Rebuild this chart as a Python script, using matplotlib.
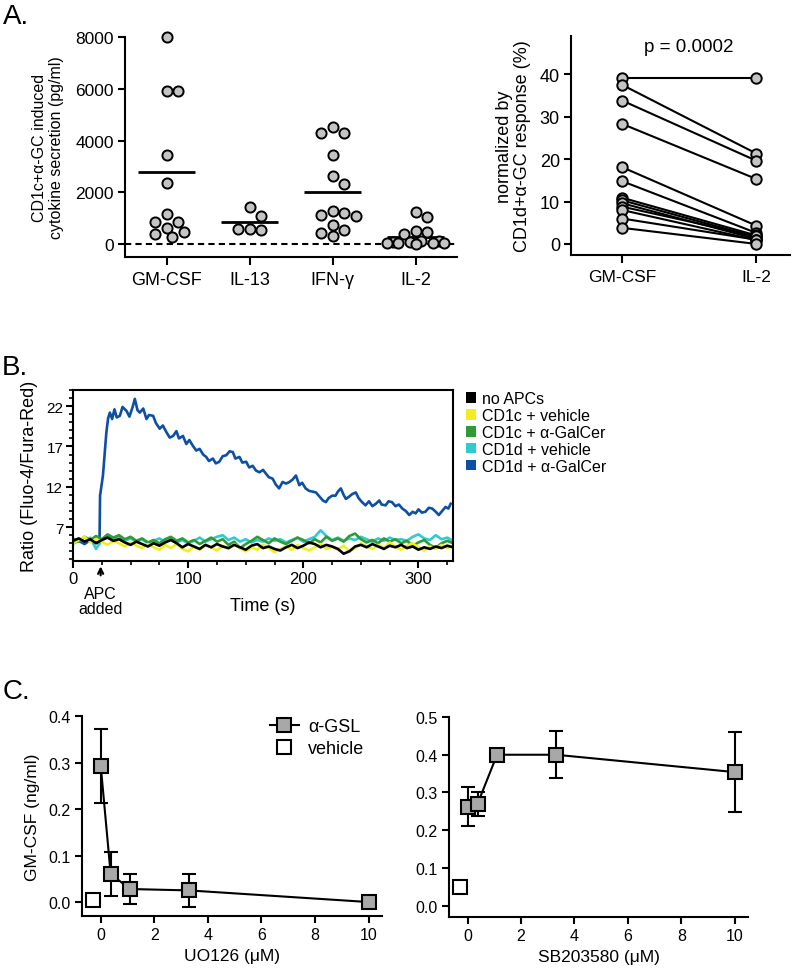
import numpy as np
import matplotlib
matplotlib.use('Agg')
import matplotlib.pyplot as plt
from matplotlib.patches import Patch
from matplotlib.lines import Line2D
from matplotlib.ticker import MultipleLocator, FormatStrFormatter

plt.rcParams['font.family'] = ['Liberation Sans', 'DejaVu Sans']
plt.rcParams['axes.linewidth'] = 1.5
plt.rcParams['xtick.major.width'] = 1.5
plt.rcParams['ytick.major.width'] = 1.5
plt.rcParams['xtick.minor.width'] = 1.2
plt.rcParams['ytick.minor.width'] = 1.2

# ---- A: cytokine secretion (pg/ml) ----
cytokines = ['GM-CSF', 'IL-13', 'IFN-γ', 'IL-2']
gmcsf_pg = [8000, 5900, 5900, 3450, 2350, 1160, 860, 860, 620, 475, 390, 270]
il13_pg = [1420, 1100, 580, 555, 580]
ifng_pg = [4520, 4280, 4280, 3460, 2620, 2320, 1290, 1190, 1120, 1070, 735, 555, 425, 300]
il2_pg = [1220, 1050, 500, 450, 400, 130, 110, 90, 70, 60, 50, 40, 30, 20]
mean_pg = [2800, 870, 2020, 270]

# ---- A: paired normalized response (%) ----
pair_labels = ['GM-CSF', 'IL-2']
gm_pct = [39.2, 37.5, 33.8, 28.3, 18.1, 14.8, 10.9, 10.3, 9.6, 8.8, 8.0, 6.0, 3.8]
il2_pct = [39.2, 21.3, 19.6, 15.3, 4.3, 2.6, 2.0, 1.6, 1.2, 1.8, 0.9, 1.0, 0.0]
p_text = 'p = 0.0002'

# ---- B: calcium flux traces (5 s sampling for controls) ----
no_apc = [5.3, 5.6, 5.2, 5.5, 5.0, 5.4, 5.7, 5.3, 5.5, 5.1, 4.8, 5.2, 4.9, 4.6, 5.0, 4.7, 5.1,
          5.4, 5.0, 4.5, 4.9, 4.6, 4.3, 4.8, 4.5, 4.9, 4.6, 4.4, 4.8, 4.5, 4.2, 4.7, 4.9, 4.4,
          4.6, 4.3, 4.1, 4.5, 4.8, 4.4, 4.7, 5.1, 4.9, 4.5, 4.8, 4.6, 4.3, 3.7, 4.0, 4.6, 4.8,
          4.5, 4.9, 4.6, 4.3, 4.7, 4.5, 4.8, 4.4, 4.6, 4.2, 4.5, 4.3, 4.6, 4.4, 4.7, 4.5]
cd1c_veh = [5.0, 5.4, 5.8, 5.1, 5.5, 5.2, 4.8, 5.3, 5.0, 4.6, 5.1, 4.7, 4.4, 4.9, 4.5, 4.2, 4.8,
            4.4, 4.9, 4.3, 4.0, 4.6, 4.2, 4.8, 4.5, 4.1, 4.7, 4.3, 4.9, 4.4, 4.0, 4.5, 4.2, 4.8,
            4.4, 3.9, 4.3, 4.6, 4.2, 4.8, 4.4, 4.1, 4.5, 4.9, 4.3, 4.6, 4.2, 4.7, 4.0, 4.4, 5.0,
            4.6, 4.3, 4.8, 4.4, 5.1, 4.6, 4.2, 4.7, 5.0, 4.5, 4.1, 4.6, 4.3, 4.8, 4.4, 4.7]
cd1c_agc = [5.6, 5.2, 5.8, 5.4, 5.9, 5.5, 6.1, 5.7, 6.0, 5.5, 5.8, 5.3, 5.6, 5.1, 5.4, 5.0, 5.5,
            5.8, 5.3, 5.6, 5.1, 5.4, 4.9, 5.3, 5.7, 5.2, 5.5, 4.8, 5.2, 4.4, 4.9, 5.3, 5.8, 5.4,
            5.0, 5.6, 5.2, 4.9, 5.3, 5.7, 5.4, 5.0, 5.5, 5.1, 5.8, 5.3, 5.6, 5.2, 5.9, 6.2, 5.5,
            5.1, 5.4, 5.0, 5.6, 5.2, 5.5, 5.0, 5.3, 4.7, 5.1, 5.4, 4.8, 4.4, 5.0, 5.3, 5.0]
cd1d_veh = [4.9, 5.5, 5.2, 5.7, 4.3, 5.4, 5.9, 5.5, 5.8, 5.3, 5.6, 5.2, 5.5, 5.0, 5.3, 5.6, 5.2,
            5.5, 5.1, 5.4, 5.0, 5.3, 5.7, 5.2, 5.5, 5.8, 6.0, 5.4, 5.7, 5.2, 5.5, 5.1, 5.4, 5.2,
            5.6, 5.3, 5.5, 5.1, 5.4, 5.7, 5.2, 5.5, 5.8, 6.6, 5.9, 5.4, 5.7, 5.3, 5.6, 5.4, 5.8,
            5.5, 5.2, 5.6, 5.3, 5.7, 5.4, 5.5, 5.3, 5.8, 6.1, 5.6, 5.4, 6.0, 5.5, 5.7, 5.3]
cd1d_agc_t = [0, 5, 10, 15, 20, 23, 23.5, 26, 29, 30.5, 32, 34, 36, 38, 40.7, 43, 46.5, 49, 52,
              53.7, 56, 58, 61, 63.8, 66, 69.6, 72, 75.3, 78, 81, 84, 86.9, 89.8, 92, 95.5, 98.4,
              101, 104, 107, 110, 113, 115.7, 118, 121.5, 124, 127, 130, 133, 136, 138.8, 141,
              144.6, 147, 150.4, 153, 156, 159, 162, 165, 167.7, 170, 173.4, 176, 179, 182, 185,
              188, 190.7, 193.6, 196.5, 199, 202, 205, 208, 211, 214, 217, 219.6, 222, 225, 228,
              230, 232.6, 235, 237, 240, 242.5, 245.6, 248, 251, 254, 257, 260, 263, 266, 268,
              271.5, 274, 277, 280, 283, 286, 289, 292, 295, 297.6, 300, 303, 306, 309, 312, 315,
              317.7, 320, 323.5, 326, 328]
cd1d_agc = [5.0, 5.3, 4.9, 5.4, 5.1, 5.0, 10.9, 13.4, 18.8, 20.5, 21.2, 20.4, 21.6, 20.6, 20.8,
            21.9, 21.4, 20.7, 22.0, 22.9, 21.5, 21.2, 21.7, 20.4, 20.9, 20.8, 19.9, 19.2, 19.6,
            18.8, 18.1, 18.3, 18.9, 18.0, 18.3, 17.3, 17.8, 17.1, 16.5, 16.7, 16.0, 15.7, 15.2,
            15.5, 14.9, 15.1, 15.8, 15.9, 16.4, 16.3, 15.5, 15.7, 15.0, 15.1, 14.4, 14.6, 14.0,
            13.8, 14.1, 13.6, 13.2, 13.0, 12.3, 11.8, 12.6, 12.4, 12.6, 12.9, 13.4, 12.2, 12.5,
            11.8, 11.5, 11.4, 11.3, 10.8, 10.3, 10.1, 10.6, 10.9, 10.9, 11.4, 11.8, 11.0, 10.5,
            10.8, 11.1, 11.3, 10.6, 10.1, 9.7, 10.2, 9.6, 9.9, 10.3, 9.8, 9.7, 10.2, 10.1, 9.6,
            9.8, 9.3, 9.0, 8.5, 8.9, 8.7, 9.2, 8.8, 8.9, 9.4, 9.3, 8.9, 8.5, 8.9, 9.5, 9.3, 9.9]
apc_added_t = 24

# ---- C: MEK / p38 inhibitor titrations ----
conc = [0, 0.37, 1.1, 3.3, 10]
uo126_mean = [0.293, 0.060, 0.028, 0.025, 0.0]
uo126_sem = [0.079, 0.048, 0.033, 0.036, 0.0]
uo126_vehicle = 0.004
sb_mean = [0.262, 0.270, 0.400, 0.400, 0.354]
sb_sem = [0.052, 0.032, 0.0, 0.062, 0.107]
sb_vehicle = 0.050
vehicle_x = -0.3

GREY_C = '#c4c4c4'
GREY_S = '#a8a8a8'

fig = plt.figure(figsize=(8, 9.7), dpi=100)


def px_axes(l, t, r, b):
    return fig.add_axes([l / 800, 1 - b / 970, (r - l) / 800, (b - t) / 970])


def swarm_x(ax, xc, vals, diam):
    # simple beeswarm in pixel space, returns data x for each value
    placed = []
    xs = []
    inv = ax.transData.inverted()
    for v in vals:
        x0, y0 = ax.transData.transform((xc, v))
        best_x, best_d = x0, -1
        for k in [0, 1, -1, 2, -2, 3, -3, 4, -4, 5, -5]:
            cx = x0 + k * diam * 0.5
            dmin = min([np.hypot(cx - px, y0 - py) for px, py in placed], default=1e9)
            if dmin >= 0.9 * diam:
                best_x = cx
                break
            if dmin > best_d:
                best_x, best_d = cx, dmin
        placed.append((best_x, y0))
        xs.append(inv.transform((best_x, y0))[0])
    return xs


def style(ax, fs):
    ax.spines['top'].set_visible(False)
    ax.spines['right'].set_visible(False)
    ax.tick_params(direction='out', length=5, labelsize=fs, pad=3)


# ===== Panel A left =====
axA1 = px_axes(125, 38, 457, 258)
axA1.set_xlim(-0.5, 3.5)
axA1.set_ylim(-500, 8000)
style(axA1, 12.5)
axA1.set_yticks([0, 2000, 4000, 6000, 8000])
axA1.set_xticks(range(4))
axA1.set_xticklabels(cytokines, fontsize=13)
axA1.tick_params(axis='x', length=6, pad=4)
axA1.axhline(0, color='k', lw=1.5, ls=(0, (3, 2)), zorder=1)
for i, vals in enumerate([gmcsf_pg, il13_pg, ifng_pg, il2_pg]):
    xs = swarm_x(axA1, i, vals, 11.5)
    axA1.plot(xs, vals, 'o', ms=7.3, mfc=GREY_C, mec='k', mew=1.4, zorder=3, clip_on=False)
axA1.hlines(mean_pg, np.arange(4) - 0.34, np.arange(4) + 0.34, color='k', lw=2, zorder=2)
axA1.set_ylabel('CD1c+α-GC induced\ncytokine secretion (pg/ml)', fontsize=11.5, labelpad=8)

# ===== Panel A right =====
axA2 = px_axes(571, 37, 790, 256)
axA2.set_xlim(-0.38, 1.25)
axA2.set_ylim(-2.6, 49)
style(axA2, 13)
axA2.set_yticks([0, 10, 20, 30, 40])
axA2.set_xticks([0, 1])
axA2.set_xticklabels(pair_labels, fontsize=12.5)
axA2.tick_params(axis='x', length=6, pad=4)
for a, b in zip(gm_pct, il2_pct):
    axA2.plot([0, 1], [a, b], '-', color='k', lw=1.5, zorder=2)
axA2.plot(np.zeros(len(gm_pct)), gm_pct, 'o', ms=7.5, mfc=GREY_C, mec='k', mew=1.4, zorder=3)
axA2.plot(np.ones(len(il2_pct)), il2_pct, 'o', ms=7.5, mfc=GREY_C, mec='k', mew=1.4, zorder=3,
          clip_on=False)
axA2.text(0.5, 46.6, p_text, ha='center', va='center', fontsize=13.5)
axA2.set_ylabel('normalized by\nCD1d+α-GC response (%)', fontsize=13, labelpad=6,
                linespacing=1.1)

# ===== Panel B =====
axB = px_axes(73, 391, 453, 562)
axB.set_xlim(0, 330)
axB.set_ylim(2.8, 24)
t5 = np.arange(len(no_apc)) * 5
traces = [
    (cd1d_agc_t, cd1d_agc, '#0d4fa3', 'CD1d + α-GalCer'),
    (t5, cd1d_veh, '#2ecbd3', 'CD1d + vehicle'),
    (t5, cd1c_agc, '#2f9a36', 'CD1c + α-GalCer'),
    (t5, cd1c_veh, '#f2ee1e', 'CD1c + vehicle'),
    (t5, no_apc, '#000000', 'no APCs'),
]
for t, v, c, lab in traces:
    axB.plot(t, v, color=c, lw=1.9)
axB.set_xticks([0, 100, 200, 300])
axB.xaxis.set_minor_locator(MultipleLocator(25))
axB.set_yticks([7, 12, 17, 22])
axB.yaxis.set_minor_locator(MultipleLocator(1))
axB.tick_params(which='major', direction='out', length=5, pad=2)
axB.tick_params(which='minor', direction='out', length=3)
axB.tick_params(axis='x', labelsize=12)
axB.tick_params(axis='y', labelsize=11)
axB.set_xlabel('Time (s)', fontsize=13, labelpad=8)
axB.set_ylabel('Ratio (Fluo-4/Fura-Red)', fontsize=13, labelpad=6)
axB.annotate('', xy=(apc_added_t, -0.015), xycoords=('data', 'axes fraction'),
             xytext=(apc_added_t, -0.1), textcoords=('data', 'axes fraction'),
             arrowprops=dict(arrowstyle='->', color='k', lw=1.6, mutation_scale=9))
axB.text(apc_added_t, -0.235, 'APC\nadded', transform=axB.get_xaxis_transform(),
         ha='center', va='center', fontsize=11.5, linespacing=0.95)
handles = [Patch(facecolor=c, edgecolor='none', label=lab) for t, v, c, lab in traces[::-1]]
fig.legend(handles=handles, loc='upper left', bbox_to_anchor=(466 / 800, 1 - 392 / 970),
           frameon=False, fontsize=11.5, handlelength=0.65, handleheight=0.65,
           handletextpad=0.35, labelspacing=0.12, borderpad=0, borderaxespad=0)

# ===== Panel C =====
axC1 = px_axes(82, 717, 382, 917)
axC2 = px_axes(449, 718, 748, 918)
for ax, mean, sem, veh, ytop, xl in [(axC1, uo126_mean, uo126_sem, uo126_vehicle, 0.4, 'UO126 (μM)'),
                                      (axC2, sb_mean, sb_sem, sb_vehicle, 0.5, 'SB203580 (μM)')]:
    style(ax, 11.5)
    ax.set_xlim(-0.7, 10.5)
    ax.set_ylim(-0.03, ytop)
    ax.set_xticks([0, 2, 4, 6, 8, 10])
    ax.set_yticks(np.arange(0, ytop + 0.01, 0.1))
    ax.yaxis.set_major_formatter(FormatStrFormatter('%.1f'))
    ax.errorbar(conc, mean, yerr=sem, fmt='none', ecolor='k', elinewidth=1.5,
                capsize=5, capthick=1.5, zorder=2)
    ax.plot(conc, mean, '-s', color='k', lw=1.5, ms=10, mfc=GREY_S, mec='k', mew=1.5, zorder=3)
    ax.plot([vehicle_x], [veh], 's', ms=10, mfc='white', mec='k', mew=1.5, zorder=3)
    ax.set_xlabel(xl, fontsize=12.5, labelpad=4)
axC1.set_ylabel('GM-CSF (ng/ml)', fontsize=12.5, labelpad=6)
leg_h = [Line2D([], [], color='k', lw=1.5, marker='s', ms=10, mfc=GREY_S, mec='k', mew=1.5),
         Line2D([], [], ls='none', marker='s', ms=10, mfc='white', mec='k', mew=1.5)]
axC1.legend(leg_h, ['α-GSL', 'vehicle'], loc='upper left',
            bbox_to_anchor=(270 / 800, 1 - 719 / 970), bbox_transform=fig.transFigure,
            frameon=False, fontsize=13, handlelength=1.6, handletextpad=0.5,
            labelspacing=0.3, borderpad=0, borderaxespad=0)

# panel letters
fig.text(3 / 800, 1 - 17 / 970, 'A.', fontsize=20, va='center', ha='left')
fig.text(2 / 800, 1 - 368 / 970, 'B.', fontsize=20, va='center', ha='left')
fig.text(3 / 800, 1 - 692 / 970, 'C.', fontsize=20, va='center', ha='left')

fig.savefig('out.png', dpi=100)
